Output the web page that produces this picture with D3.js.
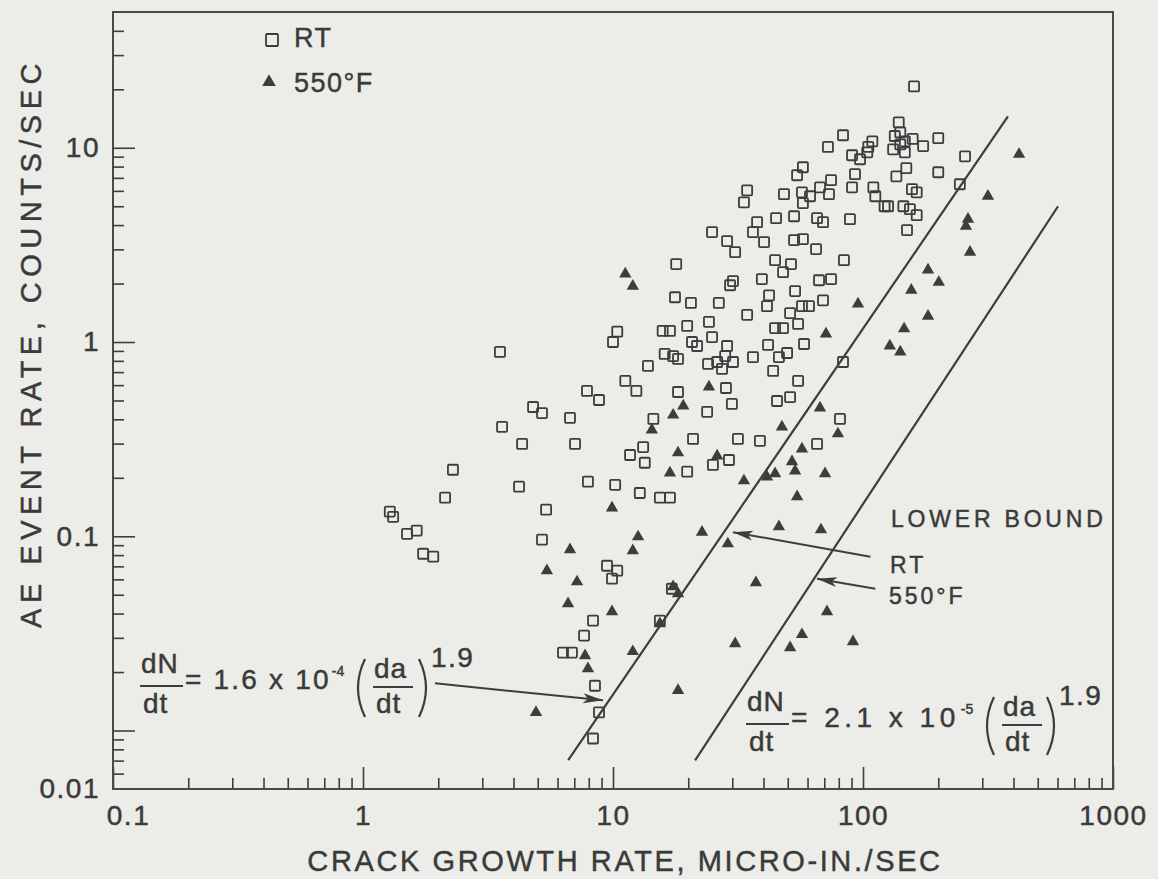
<!DOCTYPE html>
<html>
<head>
<meta charset="utf-8">
<script src="https://cdn.jsdelivr.net/npm/d3@7"></script>
<style>
body { margin: 0; background: #ecece8; }
text { font-family: "Liberation Sans", Arial, sans-serif; fill: #3a3a3a; stroke: #3a3a3a; stroke-width: 0.45px; }
</style>
</head>
<body>
<div id="chart"></div>
<script>
// RT points: crack growth rate (micro-in./sec) and AE event rate (counts/sec)
var rtGrowth = [1.28, 1.32, 1.50, 1.64, 1.74, 1.91, 2.13, 2.29, 3.53, 3.60, 4.21, 4.33, 4.79, 5.20, 5.40, 5.20,
  6.73, 7.05, 7.87, 8.79, 7.94, 10.2, 10.4, 10.0, 9.46, 10.4, 9.91, 8.32, 7.66, 6.31, 6.85, 8.47, 8.79, 8.32,
  11.2, 12.4, 13.8, 16.1, 17.4, 18.2, 20.7, 21.7, 24.0, 26.1, 27.3, 28.1, 28.6, 30.2, 36.3, 41.7, 43.7, 46.1,
  49.7, 58.1, 18.2, 28.3, 29.9, 23.8, 14.5, 55.0, 45.3, 51.1, 80.9, 20.9, 31.6, 38.7, 65.5, 11.7, 13.2, 13.4,
  25.1, 29.1, 19.8, 12.8, 15.4, 16.9, 83.2, 83.2, 72.4, 109, 105, 104, 97.3, 90.4, 57.5, 54.5, 92.9, 90.4,
  34.4, 33.4, 48.3, 57.0, 61.4, 57.5, 67.3, 74.5, 73.1, 110, 112, 44.9, 53.0, 65.5, 69.2, 88.7, 37.7, 36.3,
  40.2, 24.9, 28.6, 30.8, 53.0, 57.5, 64.9, 83.9, 17.9, 44.5, 47.9, 51.5, 30.2, 29.4, 39.4, 66.7, 74.5, 17.7,
  20.5, 26.5, 42.1, 41.3, 53.5, 57.0, 60.8, 69.2, 34.4, 51.1, 55.0, 19.8, 24.2, 24.9, 15.8, 16.9, 44.5, 47.9,
  160, 139, 134, 141, 147, 158, 132, 147, 174, 141, 200, 256, 149, 136, 200, 244, 157, 164, 122, 126, 145,
  154, 164, 150, 17.2, 15.4];
var rtRate = [0.134, 0.126, 0.103, 0.107, 0.0813, 0.0785, 0.158, 0.220, 0.889, 0.366, 0.180, 0.299, 0.463, 0.431, 0.137, 0.096,
  0.407, 0.299, 0.560, 0.503, 0.191, 0.184, 1.13, 1.0, 0.0705, 0.0665, 0.0605, 0.0368, 0.0308, 0.0252, 0.0252, 0.0170, 0.0124, 0.0091,
  0.631, 0.560, 0.753, 0.868, 0.847, 0.818, 1.0, 0.954, 0.771, 0.789, 0.727, 0.847, 0.954, 0.789, 0.837, 0.966, 0.710, 0.837,
  0.878, 0.977, 0.553, 0.580, 0.480, 0.437, 0.402, 0.631, 0.497, 0.521, 0.402, 0.317, 0.317, 0.310, 0.299, 0.262, 0.288, 0.239,
  0.233, 0.247, 0.215, 0.167, 0.158, 0.158, 0.789, 11.6, 10.1, 10.8, 10.1, 9.48, 8.73, 9.15, 7.94, 7.22, 7.31, 6.26,
  6.04, 5.24, 5.77, 5.90, 5.63, 5.19, 6.26, 6.81, 5.77, 6.26, 5.63, 4.34, 4.44, 4.34, 4.14, 4.29, 4.14, 3.68,
  3.27, 3.68, 3.31, 2.90, 3.35, 3.39, 3.01, 2.64, 2.52, 2.64, 2.29, 2.52, 2.06, 1.96, 2.11, 2.08, 2.11, 1.70,
  1.59, 1.59, 1.74, 1.53, 1.83, 1.53, 1.53, 1.64, 1.38, 1.41, 1.24, 1.21, 1.27, 1.06, 1.14, 1.14, 1.18, 1.18,
  20.7, 13.5, 11.5, 12.0, 10.8, 11.1, 9.82, 9.48, 10.2, 10.4, 11.2, 9.04, 7.85, 7.13, 7.48, 6.49, 6.12, 5.90, 5.00, 5.00, 5.00,
  4.83, 4.50, 3.77, 0.0537, 0.0368];

// 550°F points
var hotGrowth = [11.2, 12.0, 95.5, 71.1, 421, 316, 263, 258, 268, 182, 201, 156, 182, 146, 128, 141,
  24.2, 19.1, 17.4, 14.3, 18.2, 16.9, 26.1, 47.4, 67.3, 79.4, 57.0, 52.0, 53.5, 44.5, 41.3, 33.4, 70.5, 54.5,
  22.7, 28.8, 46.1, 67.9, 37.3, 12.6, 12.0, 17.4, 18.2, 71.8, 9.91, 6.73, 5.44, 7.18, 6.61, 9.91, 7.94, 7.73,
  4.92, 12.0, 15.4, 30.8, 18.2, 51.1, 57.0, 91.2];
var hotRate = [2.24, 1.94, 1.57, 1.10, 9.26, 5.63, 4.29, 3.95, 2.90, 2.35, 2.03, 1.85, 1.36, 1.17, 0.954, 0.889,
  0.587, 0.469, 0.421, 0.353, 0.269, 0.212, 0.259, 0.366, 0.458, 0.337, 0.282, 0.242, 0.217, 0.210, 0.202, 0.193, 0.210, 0.160,
  0.105, 0.0915, 0.112, 0.108, 0.0577, 0.0994, 0.0843, 0.0550, 0.0506, 0.0409, 0.140, 0.0853, 0.0665, 0.0583, 0.0450, 0.0409, 0.0208, 0.0243,
  0.0124, 0.0255, 0.0355, 0.0280, 0.0161, 0.0267, 0.0312, 0.0287];

// lower bound lines (end points)
var rtBoundGrowth = [6.62, 380];
var rtBoundRate = [0.00704, 14.5];
var hotBoundGrowth = [21.3, 603];
var hotBoundRate = [0.00702, 5.0];

// pointer arrows: [tail, tip]
var rtArrowGrowth = [107, 30.2], rtArrowRate = [0.0785, 0.105];
var hotArrowGrowth = [112, 65.5], hotArrowRate = [0.0537, 0.0605];
var eqArrowGrowth = [1.94, 9.12], eqArrowRate = [0.0175, 0.0143];

var xTicks = [0.1, 1, 10, 100, 1000];
var xTickLabels = ["0.1", "1", "10", "100", "1000"];
var yTicks = [0.005, 0.1, 1, 10];
var yTickLabels = ["0.01", "0.1", "1", "10"];
var yMajor = [0.01, 0.1, 1, 10];

var margin = {top: 12, right: 45, bottom: 90, left: 113},
    width = 1158 - margin.left - margin.right,
    height = 879 - margin.top - margin.bottom;

var ink = "#3d3d3d";

var root = d3.select("#chart")
  .append("svg")
    .attr("width", 1158)
    .attr("height", 879);

root.append("rect").attr("width", 1158).attr("height", 879).attr("fill", "#ecece8");

var svg = root.append("g")
    .attr("transform", "translate(" + margin.left + "," + margin.top + ")");

var x = d3.scaleLog().domain([0.1, 1000]).range([0, width]);
var y = d3.scaleLog().domain([0.005, 50]).range([height, 0]);

// minor tick values
var xMinor = [], yMinor = [];
[0.1, 1, 10, 100].forEach(function (d) {
  for (var k = 2; k <= 9; k++) xMinor.push(d * k);
});
[0.001, 0.01, 0.1, 1, 10].forEach(function (d) {
  for (var k = 2; k <= 9; k++) {
    var v = d * k;
    if (v > 0.005 && v < 50) yMinor.push(v);
  }
});

function clean(g) {
  g.select(".domain").remove();
  g.selectAll("line").attr("stroke", ink).attr("stroke-width", 1.6);
}

function styleLabels(g) {
  g.select(".domain").remove();
  g.selectAll("text")
    .attr("font-size", 28).attr("letter-spacing", 1.5)
    .style("font-family", "'Liberation Sans', Arial, sans-serif")
    .style("fill", "#3a3a3a");
}

// x ticks (inward)
svg.append("g").attr("transform", "translate(0," + height + ")")
  .call(d3.axisBottom(x).tickValues(xMinor).tickSize(-11).tickFormat(""))
  .call(clean);
svg.append("g").attr("transform", "translate(0," + height + ")")
  .call(d3.axisBottom(x).tickValues(xTicks).tickSize(-22).tickFormat(""))
  .call(clean);
svg.append("g").attr("transform", "translate(0," + height + ")")
  .call(d3.axisBottom(x).tickValues(xTicks).tickSize(0).tickPadding(16)
    .tickFormat(function (d, i) { return xTickLabels[i]; }))
  .call(styleLabels)
  .selectAll("text")
    .attr("dx", function (d) { return d === 0.1 ? 15 : 0; });

// y ticks (inward)
svg.append("g")
  .call(d3.axisLeft(y).tickValues(yMinor).tickSize(-11).tickFormat(""))
  .call(clean);
svg.append("g")
  .call(d3.axisLeft(y).tickValues(yMajor).tickSize(-22).tickFormat(""))
  .call(clean);
svg.append("g")
  .call(d3.axisLeft(y).tickValues(yTicks).tickSize(0).tickPadding(13)
    .tickFormat(function (d, i) { return yTickLabels[i]; }))
  .call(styleLabels);

// frame
svg.append("rect")
  .attr("width", width).attr("height", height)
  .attr("fill", "none").attr("stroke", "#4a4a4a").attr("stroke-width", 2);

// axis titles
root.append("text")
  .attr("x", 625).attr("y", 871)
  .attr("text-anchor", "middle")
  .attr("font-size", 29).attr("letter-spacing", 2.6)
  .text("CRACK GROWTH RATE, MICRO-IN./SEC");
root.append("text")
  .attr("transform", "translate(41,343) rotate(-90)")
  .attr("text-anchor", "middle")
  .attr("font-size", 29).attr("letter-spacing", 5.5)
  .text("AE EVENT RATE, COUNTS/SEC");

// lower bound lines
var line = d3.line()
  .x(function (d) { return x(d[0]); })
  .y(function (d) { return y(d[1]); });
[[rtBoundGrowth, rtBoundRate], [hotBoundGrowth, hotBoundRate]].forEach(function (b) {
  svg.append("path")
    .datum(d3.zip(b[0], b[1]))
    .attr("d", line)
    .attr("fill", "none").attr("stroke", ink).attr("stroke-width", 2.2);
});

// RT squares
svg.append("g")
  .selectAll("rect")
  .data(d3.zip(rtGrowth, rtRate))
  .enter()
  .append("rect")
    .attr("x", function (d) { return x(d[0]) - 5; })
    .attr("y", function (d) { return y(d[1]) - 5; })
    .attr("width", 10).attr("height", 10).attr("rx", 1)
    .attr("fill", "none").attr("stroke", ink).attr("stroke-width", 1.8);

// 550°F triangles
var tri = d3.symbol().type(d3.symbolTriangle).size(66);
svg.append("g")
  .selectAll("path")
  .data(d3.zip(hotGrowth, hotRate))
  .enter()
  .append("path")
    .attr("d", tri)
    .attr("transform", function (d) { return "translate(" + x(d[0]) + "," + y(d[1]) + ")"; })
    .attr("fill", ink);

// arrows
root.append("defs").append("marker")
  .attr("id", "head")
  .attr("markerUnits", "userSpaceOnUse")
  .attr("markerWidth", 24).attr("markerHeight", 14)
  .attr("viewBox", "-22 -7 24 14")
  .attr("refX", 0).attr("refY", 0)
  .attr("orient", "auto")
  .append("path")
    .attr("d", "M0,0 L-20,-5 L-15,0 L-20,5 Z")
    .attr("fill", ink);
[[rtArrowGrowth, rtArrowRate], [hotArrowGrowth, hotArrowRate], [eqArrowGrowth, eqArrowRate]].forEach(function (a) {
  svg.append("path")
    .datum(d3.zip(a[0], a[1]))
    .attr("d", line)
    .attr("fill", "none").attr("stroke", ink).attr("stroke-width", 2)
    .attr("marker-end", "url(#head)");
});

// legend
root.append("rect").attr("x", 266).attr("y", 34).attr("width", 12).attr("height", 12).attr("rx", 1)
  .attr("fill", "none").attr("stroke", ink).attr("stroke-width", 1.8);
root.append("text").attr("x", 294).attr("y", 47).attr("font-size", 27).attr("letter-spacing", 1.5).text("RT");
root.append("path").attr("d", d3.symbol().type(d3.symbolTriangle).size(80)())
  .attr("transform", "translate(269,82)").attr("fill", ink);
root.append("text").attr("x", 294).attr("y", 92).attr("font-size", 27).attr("letter-spacing", 1.5).text("550°F");

// annotations
function label(t, px, py, fs, ls) {
  return root.append("text").attr("x", px).attr("y", py)
    .attr("font-size", fs).attr("letter-spacing", ls).text(t);
}
label("LOWER BOUND", 891, 527, 23, 3.8);
label("RT", 890, 573, 23, 3);
label("550°F", 889, 604, 23, 3);

function paren(px, top, bot, dir) {
  var mid = (top + bot) / 2;
  root.append("path")
    .attr("d", "M" + px + "," + top + " Q" + (px - dir * 14) + "," + mid + " " + px + "," + bot)
    .attr("fill", "none").attr("stroke", ink).attr("stroke-width", 2.2);
}

function equation(ex, ey, coef, expo, spacing, parenL, parenR) {
  // ex, ey: left of the dN/dt fraction and height of its bar
  label("dN", ex, ey - 13, 28, 1);
  root.append("line").attr("x1", ex - 1).attr("x2", ex + 42).attr("y1", ey).attr("y2", ey)
    .attr("stroke", ink).attr("stroke-width", 2);
  label("dt", ex + 2, ey + 27, 28, 1);
  var main = label("= " + coef + " x 10", ex + 44, ey + 3, 28, spacing);
  var w = main.node().getComputedTextLength();
  label(expo, ex + 44 + w + 1, ey - 10, 14, 0);
  paren(parenL, ey - 27, ey + 31, 1);
  label("da", parenL + 9, ey - 8, 28, 1);
  root.append("line").attr("x1", parenL + 8).attr("x2", parenL + 48).attr("y1", ey + 1).attr("y2", ey + 1)
    .attr("stroke", ink).attr("stroke-width", 2);
  label("dt", parenL + 11, ey + 27, 28, 1);
  paren(parenR, ey - 27, ey + 31, -1);
  label("1.9", parenR + 12, ey - 19, 28, 1.5);
}
equation(141, 686, "1.6", "-4", 2.2, 365, 419);
equation(747, 724, "2.1", "-5", 4.5, 994, 1047);
</script>
</body>
</html>
